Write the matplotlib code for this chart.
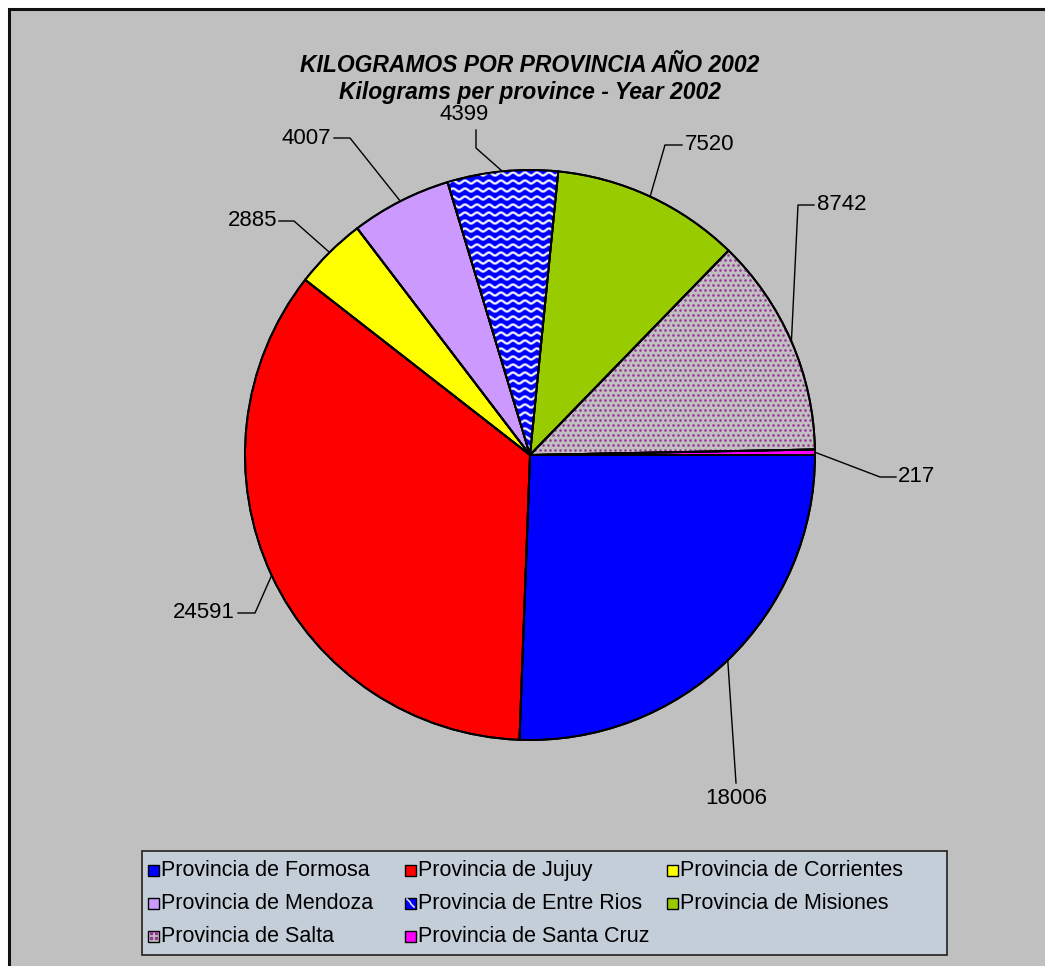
import numpy as np
import matplotlib
matplotlib.use("Agg")
import matplotlib.pyplot as plt
from matplotlib.patches import Rectangle, Wedge

# ---------------- data ----------------
provinces = ["Provincia de Formosa", "Provincia de Jujuy", "Provincia de Corrientes",
             "Provincia de Mendoza", "Provincia de Entre Rios", "Provincia de Misiones",
             "Provincia de Salta", "Provincia de Santa Cruz"]
kilograms = [18006, 24591, 2885, 4007, 4399, 7520, 8742, 217]
colors = ["#0000FF", "#FF0000", "#FFFF00", "#CC99FF", "#0000FF", "#99CC00", "#C0C0C0", "#FF00FF"]
title_es = "KILOGRAMOS POR PROVINCIA AÑO 2002"
title_en = "Kilograms per province - Year 2002"

# ---------------- layout (pixels) ----------------
W, H = 1045, 966
CX, CY, R = 530, 455, 285
label_layout = [
    dict(xy=(736, 798), ha="center", pts=[(736, 783)]),
    dict(xy=(235, 613), ha="right", pts=[(255, 613), (238, 613)]),
    dict(xy=(277, 221), ha="right", pts=[(294, 221), (279, 221)]),
    dict(xy=(331, 138), ha="right", pts=[(350, 138), (334, 138)]),
    dict(xy=(464, 114), ha="center", pts=[(476, 148), (476, 130)]),
    dict(xy=(685, 145), ha="left", pts=[(665, 145), (682, 145)]),
    dict(xy=(817, 205), ha="left", pts=[(798, 205), (814, 205)]),
    dict(xy=(898, 477), ha="left", pts=[(880, 477), (896, 477)]),
]

plt.rcParams["font.family"] = ["Liberation Sans", "DejaVu Sans"]

fig = plt.figure(figsize=(W / 100, H / 100), dpi=100)
fig.patch.set_facecolor("white")
ax = fig.add_axes([0, 0, 1, 1])

# background panel (cropped at right/bottom)
ax.add_patch(Rectangle((8, 8), W, H, facecolor="#C0C0C0", edgecolor="none", zorder=0))
ax.plot([9, 9, W + 5], [H + 5, 9, 9], color="#111111", lw=2.2, zorder=1,
        solid_joinstyle="miter")

wedges, _ = ax.pie(kilograms, colors=colors, startangle=0, counterclock=True,
                   center=(CX, CY), radius=R,
                   wedgeprops=dict(edgecolor="black", linewidth=1.4))
for w in wedges:
    w.set_zorder(2)

ax.set_xlim(0, W)
ax.set_ylim(H, 0)
ax.set_aspect("auto")
ax.axis("off")

# wavy pattern for Entre Rios
w_er = wedges[4]
xs = np.linspace(430, 580, 600)
for y0 in np.arange(150, 470, 8):
    ys = y0 + 1.5 * np.sin(2 * np.pi * xs / 12)
    ln, = ax.plot(xs, ys, color="#A8A8FF", lw=2.0, zorder=3)
    ln.set_clip_path(w_er)
    ln2, = ax.plot(xs, ys, color="#FFFFFF", lw=0.8, zorder=3)
    ln2.set_clip_path(w_er)

# dotted pattern for Salta
w_sa = wedges[6]
pts = []
for j, yy in enumerate(np.arange(240, 470, 5)):
    off = 2.5 if j % 2 else 0
    for xx in np.arange(520, 830, 5):
        pts.append((xx + off, yy))
pts = np.array(pts)
sc = ax.scatter(pts[:, 0], pts[:, 1], s=3.5, color="#993399", linewidths=0, zorder=3)
sc.set_clip_path(w_sa)

# redraw edges on top of patterns
for w in wedges:
    ax.add_patch(Wedge(w.center, w.r, w.theta1, w.theta2, facecolor="none",
                       edgecolor="black", linewidth=1.4, zorder=4))

# data labels with leader lines
total = sum(kilograms)
cum = 0
for val, lay in zip(kilograms, label_layout):
    mid = (cum + val / 2) / total * 360.0
    cum += val
    ex = CX + R * np.cos(np.radians(mid))
    ey = CY + R * np.sin(np.radians(mid))
    path = [(ex, ey)] + lay["pts"]
    ax.plot([p[0] for p in path], [p[1] for p in path], color="black", lw=1.0, zorder=5)
    ax.text(lay["xy"][0], lay["xy"][1], f"{val}", ha=lay["ha"], va="center",
            fontsize=16, color="black", zorder=6)

# titles
ax.text(CX, 65, title_es, ha="center", va="center", fontsize=16.5,
        fontweight="bold", fontstyle="italic")
ax.text(CX, 92, title_en, ha="center", va="center", fontsize=16.5,
        fontweight="bold", fontstyle="italic")

# legend (manual)
ax.add_patch(Rectangle((142, 851), 805, 104, facecolor="#C4CED9", edgecolor="#202020",
                       linewidth=1.2, zorder=6))
col_x = [148, 405, 667]
row_y = [870, 903, 936]
for i, (name, col) in enumerate(zip(provinces, colors)):
    r, c = divmod(i, 3)
    hx, hy = col_x[c], row_y[r]
    box = Rectangle((hx, hy - 5.5), 11, 11, facecolor=col, edgecolor="black",
                    linewidth=1.0, zorder=7)
    ax.add_patch(box)
    if i == 4:
        ln, = ax.plot([hx + 2, hx + 5, hx + 6, hx + 9], [hy - 4, hy - 1, hy + 1, hy + 4],
                      color="#E0E0FF", lw=1.2, zorder=8)
        ln.set_clip_path(box)
    if i == 6:
        for dx in (3, 8):
            for dy in (-3, 2):
                ax.plot(hx + dx, hy + dy, marker="s", ms=1.5, color="#993399",
                        zorder=8, linestyle="none")
    ax.text(hx + 13, hy + 0.5, name, ha="left", va="center", fontsize=15.5, zorder=8)

fig.savefig("out.png", dpi=100, facecolor=fig.get_facecolor())
